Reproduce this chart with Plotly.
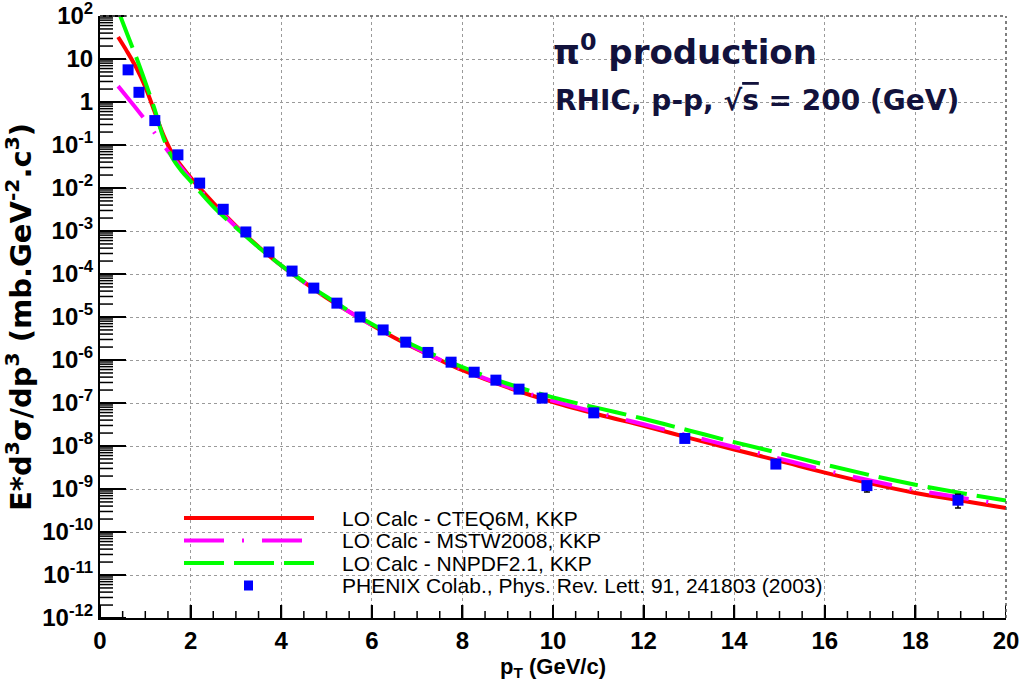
import math
import plotly.graph_objects as go

# ---------------- data ----------------
pt_curve = [0.4, 0.6, 0.8, 1.0, 1.2, 1.4, 1.6, 1.8, 2.0, 2.5, 3.0, 3.5, 4.0, 4.5, 5.0, 5.5,
            6.0, 6.5, 7.0, 7.5, 8.0, 9.0, 10.0, 11.0, 12.0, 13.0, 14.0, 15.0, 16.0, 17.0,
            18.0, 19.0, 20.0]

cteq6m = [32.4, 14.8, 6.3, 2.24, 0.62, 0.17, 0.063, 0.032, 0.0174, 4.5e-3, 1.32e-3, 4.3e-4,
          1.58e-4, 6.5e-5, 2.8e-5, 1.32e-5, 6.5e-6, 3.3e-6, 1.78e-6, 1.0e-6, 5.8e-7, 2.3e-7,
          1.05e-7, 5.4e-8, 2.95e-8, 1.55e-8, 8.3e-9, 4.5e-9, 2.4e-9, 1.35e-9, 8.1e-10,
          5.4e-10, 3.6e-10]

mstw2008 = [2.34, 1.29, 0.71, 0.38, 0.195, 0.10, 0.052, 0.029, 0.0162, 4.2e-3, 1.26e-3, 4.2e-4,
            1.58e-4, 6.5e-5, 2.8e-5, 1.32e-5, 6.5e-6, 3.4e-6, 1.82e-6, 1.02e-6, 6.0e-7, 2.4e-7,
            1.12e-7, 5.9e-8, 3.2e-8, 1.74e-8, 9.5e-9, 5.1e-9, 2.75e-9, 1.58e-9, 9.5e-10,
            6.3e-10, 4.3e-10]

nnpdf21 = [135.0, 38.0, 11.0, 2.9, 0.71, 0.148, 0.05, 0.025, 0.0145, 3.7e-3, 1.2e-3, 4.2e-4,
           1.58e-4, 6.6e-5, 2.95e-5, 1.38e-5, 6.9e-6, 3.6e-6, 2.0e-6, 1.15e-6, 6.8e-7, 2.8e-7,
           1.35e-7, 7.6e-8, 4.3e-8, 2.3e-8, 1.23e-8, 6.8e-9, 3.7e-9, 2.1e-9, 1.26e-9,
           8.1e-10, 5.4e-10]

pt_data = [0.62, 0.86, 1.21, 1.72, 2.20, 2.72, 3.22, 3.73, 4.24, 4.72, 5.23, 5.74, 6.25, 6.75,
           7.24, 7.75, 8.26, 8.74, 9.25, 9.76, 10.90, 12.91, 14.92, 16.93, 18.94]
phenix = [5.6, 1.68, 0.37, 0.059, 0.013, 3.2e-3, 9.5e-4, 3.25e-4, 1.17e-4, 4.7e-5, 2.1e-5,
          1.0e-5, 5.0e-6, 2.6e-6, 1.5e-6, 8.9e-7, 5.2e-7, 3.4e-7, 2.1e-7, 1.3e-7, 5.9e-8,
          1.5e-8, 3.8e-9, 1.2e-9, 5.5e-10]
phenix_err_plus = [0, 0, 0, 0, 0, 0, 0, 0, 0, 0, 0, 0, 0, 0, 0, 0, 0, 0, 0, 0, 0, 0, 0,
                   1.0e-10, 2.1e-10]
phenix_err_minus = [0, 0, 0, 0, 0, 0, 0, 0, 0, 0, 0, 0, 0, 0, 0, 0, 0, 0, 0, 0, 0, 0, 0,
                    3.5e-10, 1.9e-10]

legend_labels = ["LO Calc - CTEQ6M, KKP", "LO Calc - MSTW2008, KKP",
                 "LO Calc - NNPDF2.1, KKP",
                 "PHENIX Colab., Phys. Rev. Lett. 91, 241803 (2003)"]

decades = list(range(-12, 3))
ytick_text = []
for d in decades:
    if d == 0:
        ytick_text.append("1")
    elif d == 1:
        ytick_text.append("10")
    else:
        ytick_text.append("10<sup>%d</sup>" % d)
ytick_vals = [10.0 ** d for d in decades]
yminor_vals = [m * 10.0 ** d for d in decades[:-1] for m in range(2, 10)]
xmajor_vals = [2 * i for i in range(11)]
xminor_vals = [0.5 * i for i in range(41) if i % 4 != 0]

# ---------------- figure ----------------
FONT = "Liberation Sans, Arial, sans-serif"
RED = "#ff0000"
MAG = "#ff00ff"
GRN = "#00ff00"
BLUE = "#0000ff"
NAVY = "#12123c"
GRID = "#9a9a9a"
Y_LO, Y_HI = -12, 2
X_LO, X_HI = 0, 20
PLOT_W, PLOT_H = 906.0, 602.0

fig = go.Figure()
fig.add_trace(go.Scatter(x=pt_curve, y=cteq6m, mode="lines", line=dict(color=RED, width=4, shape="spline"),
                         name=legend_labels[0], showlegend=False))
fig.add_trace(go.Scatter(x=pt_curve, y=mstw2008, mode="lines",
                         line=dict(color=MAG, width=4, dash="40px,18px,2px,18px", shape="spline"),
                         name=legend_labels[1], showlegend=False))
fig.add_trace(go.Scatter(x=pt_curve, y=nnpdf21, mode="lines",
                         line=dict(color=GRN, width=4, dash="40px,10px", shape="spline"),
                         name=legend_labels[2], showlegend=False))
fig.add_trace(go.Scatter(x=pt_data, y=phenix, mode="markers",
                         marker=dict(symbol="square", size=11, color=BLUE, line=dict(width=0)),
                         error_y=dict(type="data", array=phenix_err_plus, arrayminus=phenix_err_minus,
                                      color="black", thickness=1.5, width=3, symmetric=False),
                         name=legend_labels[3], showlegend=False))

def px_x(px):
    return (px - 100) / PLOT_W

def px_y(py):
    return (618 - py) / PLOT_H

shapes = []
# ---- ROOT-style inside tick marks along the frame ----
def ytick_paper(v):
    return (math.log10(v) - Y_LO) / (Y_HI - Y_LO)

for v in ytick_vals:
    shapes.append(dict(type="line", xref="paper", yref="paper", x0=0, x1=26 / PLOT_W,
                       y0=ytick_paper(v), y1=ytick_paper(v), line=dict(color="black", width=2),
                       layer="above"))
for v in yminor_vals:
    shapes.append(dict(type="line", xref="paper", yref="paper", x0=0, x1=13 / PLOT_W,
                       y0=ytick_paper(v), y1=ytick_paper(v), line=dict(color="black", width=1.5),
                       layer="above"))
for v in xmajor_vals:
    shapes.append(dict(type="line", xref="x", yref="paper", x0=v, x1=v, y0=0, y1=13 / PLOT_H,
                       line=dict(color="black", width=2), layer="above"))
for v in xminor_vals:
    shapes.append(dict(type="line", xref="x", yref="paper", x0=v, x1=v, y0=0, y1=7 / PLOT_H,
                       line=dict(color="black", width=1.5), layer="above"))

# dotted frame on top and right (ROOT grid on the frame edges)
shapes.append(dict(type="line", xref="paper", yref="paper", x0=0, x1=1, y0=1, y1=1,
                   line=dict(color="#555555", width=1.5, dash="dot"), layer="above"))
shapes.append(dict(type="line", xref="paper", yref="paper", x0=1, x1=1, y0=0, y1=1,
                   line=dict(color="#555555", width=1.5, dash="dot"), layer="above"))

# ---- manual legend (ROOT style, long line samples, no frame) ----
leg_rows = [518, 540.5, 563, 585.5]
line_styles = [dict(color=RED, width=4), dict(color=MAG, width=4, dash="40px,18px,2px,18px"),
               dict(color=GRN, width=4, dash="40px,10px")]
for i, st in enumerate(line_styles):
    shapes.append(dict(type="line", xref="paper", yref="paper",
                       x0=px_x(184), x1=px_x(314), y0=px_y(leg_rows[i]), y1=px_y(leg_rows[i]),
                       line=st, layer="above"))
shapes.append(dict(type="rect", xref="paper", yref="paper",
                   x0=px_x(244), x1=px_x(253), y0=px_y(leg_rows[3] - 5), y1=px_y(leg_rows[3] + 5),
                   fillcolor=BLUE, line=dict(width=0), layer="above"))

annotations = []
for i, lab in enumerate(legend_labels):
    annotations.append(dict(xref="paper", yref="paper", x=px_x(340), y=px_y(leg_rows[i]),
                            xanchor="left", yanchor="middle", text=lab, showarrow=False,
                            font=dict(family=FONT, size=21, color="black")))

annotations.append(dict(xref="paper", yref="paper", x=px_x(551), y=px_y(50),
                        xanchor="left", yanchor="middle", showarrow=False,
                        text="<b>π<sup>0</sup> production</b>",
                        font=dict(family="DejaVu Sans, sans-serif", size=34, color=NAVY)))
annotations.append(dict(xref="paper", yref="paper", x=px_x(553), y=px_y(100),
                        xanchor="left", yanchor="middle", showarrow=False,
                        text="<b>RHIC, p-p, √<span style='text-decoration:overline'>s</span> = 200 (GeV)</b>",
                        font=dict(family="DejaVu Sans, sans-serif", size=28, color=NAVY)))

fig.update_layout(
    template="none",
    width=1026, height=684,
    margin=dict(l=100, r=20, t=16, b=66),
    paper_bgcolor="white", plot_bgcolor="white",
    showlegend=False,
    shapes=shapes,
    annotations=annotations,
    font=dict(family=FONT, color="black"),
    xaxis=dict(
        range=[X_LO, X_HI], tickmode="array", tickvals=xmajor_vals,
        showline=True, linecolor="black", linewidth=2, mirror=False,
        ticks="inside", ticklen=13, tickwidth=2, tickcolor="black",
        showgrid=True, gridcolor=GRID, griddash="dot", gridwidth=1,
        zeroline=False, automargin=False,
        ticklabeloverflow="allow",
        tickfont=dict(family=FONT, size=24, color="black", weight="bold"),
        title=dict(text="p<sub>T</sub> (GeV/c)", standoff=0,
                   font=dict(family=FONT, size=22, color="black", weight="bold")),
    ),
    yaxis=dict(
        type="log", range=[Y_LO, Y_HI],
        tickmode="array", tickvals=ytick_vals, ticktext=ytick_text,
        showline=True, linecolor="black", linewidth=2, mirror=False,
        ticks="inside", ticklen=26, tickwidth=2, tickcolor="black",
        showgrid=True, gridcolor=GRID, griddash="dot", gridwidth=1,
        zeroline=False, automargin=False,
        ticklabeloverflow="allow",
        tickfont=dict(family=FONT, size=24, color="black", weight="bold"),
        title=dict(text="E*d<sup>3</sup>σ/dp<sup>3</sup> (mb.GeV<sup>-2</sup>.c<sup>3</sup>)", standoff=2,
                   font=dict(family="DejaVu Sans, sans-serif", size=29, color="black", weight="bold")),
    ),
)

fig.write_html("out.html")
